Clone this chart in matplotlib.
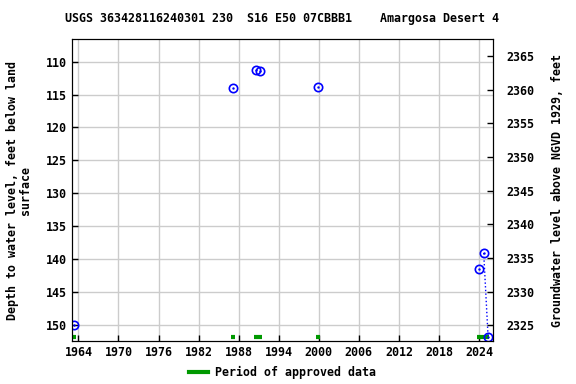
import numpy as np
import matplotlib
matplotlib.use("Agg")
import matplotlib.pyplot as plt
from matplotlib.lines import Line2D

# measurements (decimal year, depth below land surface in feet)
years = [1963.35, 1987.16, 1990.6, 1991.25, 1999.88, 2024.0, 2024.7, 2025.36]
depth = [150.0, 114.05, 111.3, 111.4, 113.8, 141.6, 139.1, 151.9]

# segment drawn dotted between the last two measurements
dot_years = [2024.7, 2025.36]
dot_depth = [139.1, 151.9]

# approved data periods (start, end)
approved_start = [1963.0, 1986.85, 1990.3, 1999.6, 2023.7]
approved_end = [1963.65, 1987.4, 1991.5, 2000.2, 2025.5]

title = "USGS 363428116240301 230  S16 E50 07CBBB1    Amargosa Desert 4"
left_ticks = [110, 115, 120, 125, 130, 135, 140, 145, 150]
right_ticks = [2325, 2330, 2335, 2340, 2345, 2350, 2355, 2360, 2365]
x_ticks = [1964, 1970, 1976, 1982, 1988, 1994, 2000, 2006, 2012, 2018, 2024]

plt.rcParams['font.family'] = ['DejaVu Sans Mono']
plt.rcParams['font.weight'] = 'bold'
plt.rcParams['font.size'] = 8.4

fig = plt.figure(figsize=(5.76, 3.84), dpi=100)
ax = fig.add_axes([0.1245, 0.112, 0.7309, 0.7864])

ax.set_xlim(1963.0, 2026.05)
ax.set_ylim(152.48, 106.55)
ax.set_xticks(x_ticks)
ax.set_yticks(left_ticks)
ax.grid(True, color="#cccccc", linewidth=1)
ax.set_axisbelow(True)
ax.tick_params(direction='in', length=4, width=1, labelsize=8.4)
for lbl in ax.get_xticklabels() + ax.get_yticklabels():
    lbl.set_fontweight('bold')

# approved periods along the bottom
bar_y = 151.87
for s, e in zip(approved_start, approved_end):
    ax.plot([s, e], [bar_y, bar_y], color="#009900", linewidth=3,
            solid_capstyle='butt', zorder=3)

ax.plot(dot_years, dot_depth, color="#0000ff", linestyle=':', linewidth=1, zorder=4)
ax.plot(years, depth, linestyle='none', marker='o', markersize=6,
        markerfacecolor='none', markeredgecolor="#0000ff", markeredgewidth=1.2, zorder=5)
ax.plot(years, depth, linestyle='none', marker='.', markersize=1.5,
        color="#0000ff", zorder=5)

ax.set_ylabel("Depth to water level, feet below land\nsurface", fontweight='bold',
              fontsize=8.4, linespacing=1.0, labelpad=10)
ax.set_title(title, fontweight='bold', fontsize=8.4, pad=12.5)

ax2 = ax.twinx()
ax2.set_ylim(2322.7, 2367.5)
ax2.set_yticks(right_ticks)
ax2.tick_params(direction='in', length=4, width=1, labelsize=8.4, pad=10)
for lbl in ax2.get_yticklabels():
    lbl.set_fontweight('bold')
ax2.set_ylabel("Groundwater level above NGVD 1929, feet", fontweight='bold', fontsize=8.4,
               labelpad=12)

handle = Line2D([], [], color="#009900", linewidth=3)
fig.legend([handle], ["Period of approved data"], loc='center',
           bbox_to_anchor=(0.49, 0.031), frameon=False, handlelength=1.6,
           handletextpad=0.6,
           prop={'weight': 'bold', 'size': 8.4, 'family': 'DejaVu Sans Mono'})

fig.savefig("out.png", dpi=100)
